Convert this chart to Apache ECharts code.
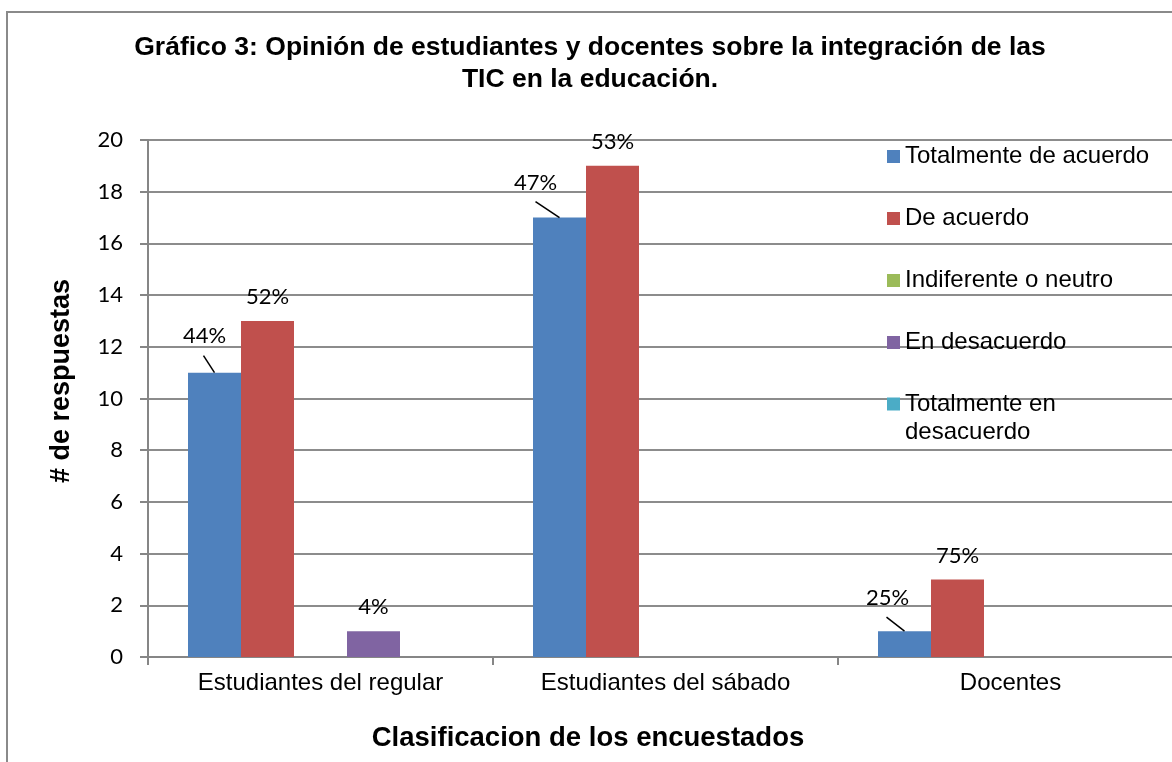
<!DOCTYPE html>
<html>
<head>
<meta charset="utf-8">
<script src="https://cdn.jsdelivr.net/npm/echarts@6/dist/echarts.min.js"></script>
<style>
html,body{margin:0;padding:0;background:#fff;}
#chart{width:1172px;height:762px;}
</style>
</head>
<body>
<div id="chart"></div>
<script>
const categories = ['Estudiantes del regular', 'Estudiantes del sábado', 'Docentes'];
const seriesNames = ['Totalmente de acuerdo', 'De acuerdo', 'Indiferente o neutro', 'En desacuerdo', 'Totalmente en desacuerdo'];
const totalmenteDeAcuerdo = [11, 17, 1];
const deAcuerdo = [13, 19, 3];
const indiferente = [0, 0, 0];
const enDesacuerdo = [1, 0, 0];
const totalmenteEnDesacuerdo = [0, 0, 0];
const pctTotalmenteDeAcuerdo = ['44%', '47%', '25%'];
const pctDeAcuerdo = ['52%', '53%', '75%'];
const pctIndiferente = ['', '', ''];
const pctEnDesacuerdo = ['4%', '', ''];
const pctTotalmenteEnDesacuerdo = ['', '', ''];
const yTicks = [0, 2, 4, 6, 8, 10, 12, 14, 16, 18, 20];

const colors = ['#4F81BD', '#C0504D', '#9BBB59', '#8064A2', '#4BACC6'];
const values = [totalmenteDeAcuerdo, deAcuerdo, indiferente, enDesacuerdo, totalmenteEnDesacuerdo];
const pcts = [pctTotalmenteDeAcuerdo, pctDeAcuerdo, pctIndiferente, pctEnDesacuerdo, pctTotalmenteEnDesacuerdo];
// style: label offsets and leader-line ends for the blue series (px, relative to bar top centre)
const blueLabelOffset = [[-10, -37], [-24, -35], [-17, -33]];
const blueLeaderEnd = [[-11, -17], [-24, -16], [-18, -14]];
const BAR_W = 53;

const chart = echarts.init(document.getElementById('chart'));
const series = seriesNames.map((name, i) => ({
  name: name,
  type: 'bar',
  barWidth: BAR_W,
  barGap: '0%',
  itemStyle: { color: colors[i] },
  emphasis: { disabled: true },
  data: values[i].map((v, j) => {
    const item = { value: v, label: { show: pcts[i][j] !== '' && v > 0 } };
    if (i === 0) {
      item.label.offset = blueLabelOffset[j];
    }
    return item;
  }),
  label: i === 0 ? {
    position: 'top',
    distance: 0,
    align: 'center',
    verticalAlign: 'middle',
    fontFamily: 'Lato',
    fontSize: 22,
    color: '#000',
    formatter: p => pcts[i][p.dataIndex]
  } : {
    position: 'top',
    distance: 13,
    fontFamily: 'Lato',
    fontSize: 22,
    color: '#000',
    formatter: p => pcts[i][p.dataIndex]
  }
}));

// leader lines for the blue labels
series.push({
  type: 'custom',
  name: 'leaders',
  silent: true,
  z: 5,
  encode: { x: 0, y: 1 },
  data: totalmenteDeAcuerdo.map((v, j) => [j, v]),
  renderItem: function (params, api) {
    const j = api.value(0);
    const v = api.value(1);
    if (!v) return null;
    const p = api.coord([j, v]);
    const bx = p[0] - 2 * BAR_W;
    const e = blueLeaderEnd[params.dataIndex];
    return {
      type: 'line',
      shape: { x1: bx, y1: p[1], x2: bx + e[0], y2: p[1] + e[1] },
      style: { stroke: '#000', lineWidth: 1.5 }
    };
  }
});

chart.setOption({
  animation: false,
  backgroundColor: '#fff',
  textStyle: { fontFamily: 'Liberation Sans' },
  grid: { left: 148, top: 140, height: 517, width: 1035, containLabel: false, outerBoundsMode: 'none' },
  legend: [{
    orient: 'vertical',
    left: 887,
    top: 142.5,
    padding: 0,
    itemWidth: 13,
    itemHeight: 13,
    itemGap: 34,
    icon: 'rect',
    textStyle: { fontFamily: 'Liberation Sans', fontSize: 24, color: '#000', lineHeight: 28 },
    selectedMode: false,
    data: seriesNames.slice(0, 4)
  }, {
    orient: 'vertical',
    left: 887,
    top: 362,
    padding: 0,
    itemWidth: 13,
    itemHeight: 13,
    icon: 'rect',
    textStyle: { fontFamily: 'Liberation Sans', fontSize: 24, color: '#000', lineHeight: 28 },
    selectedMode: false,
    data: seriesNames.slice(4),
    formatter: n => '\nTotalmente en\ndesacuerdo'
  }],
  xAxis: {
    type: 'category',
    data: categories,
    axisLine: { lineStyle: { color: '#868686', width: 2 } },
    axisTick: { show: true, length: 8, lineStyle: { color: '#868686', width: 2 } },
    axisLabel: { fontFamily: 'Liberation Sans', fontSize: 24, color: '#000', margin: 14 },
    splitLine: { show: false }
  },
  yAxis: {
    type: 'value',
    min: 0,
    max: 20,
    interval: 2,
    axisLine: { show: true, lineStyle: { color: '#868686', width: 2 } },
    axisTick: { show: true, length: 8, lineStyle: { color: '#868686', width: 2 } },
    axisLabel: { fontFamily: 'Lato', fontSize: 22, color: '#000', margin: 25,
      formatter: v => yTicks.indexOf(v) >= 0 ? String(v) : '' },
    splitLine: { show: true, lineStyle: { color: '#8c8c8c', width: 2 } }
  },
  graphic: [
    { type: 'rect', shape: { x: 7, y: 12, width: 1300, height: 900 }, style: { fill: 'none', stroke: '#8a8a8a', lineWidth: 2 }, z: -1 },
    { type: 'text', x: 590, y: 31.5, style: { text: 'Gráfico 3: Opinión de estudiantes y docentes sobre la integración de las\nTIC en la educación.', textAlign: 'center', textVerticalAlign: 'top', font: 'bold 26.5px "Liberation Sans"', fill: '#000', lineHeight: 32 } },
    { type: 'text', x: 62, y: 381, rotation: Math.PI / 2, style: { text: '# de respuestas', textAlign: 'center', textVerticalAlign: 'middle', font: 'bold 27px "Liberation Sans"', fill: '#000' } },
    { type: 'text', x: 588, y: 738, style: { text: 'Clasificacion de los encuestados', textAlign: 'center', textVerticalAlign: 'middle', font: 'bold 27.5px "Liberation Sans"', fill: '#000' } }
  ],
  series: series
});
</script>
</body>
</html>
